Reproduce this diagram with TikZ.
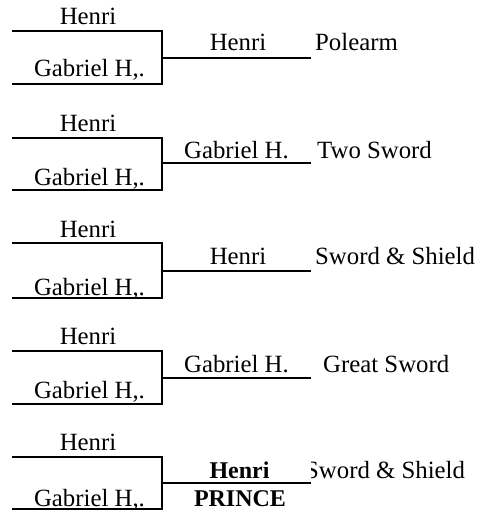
\documentclass[tikz,border=0pt]{standalone}
\usepackage{fontspec}
\setmainfont{Liberation Serif}
\begin{document}
\begin{tikzpicture}[x=1pt,y=-1pt,
  lbl/.style={inner sep=0pt, anchor=base, font=\fontsize{24.8}{29}\selectfont},
  lblw/.style={lbl, anchor=base west},
  lblb/.style={lbl, font=\fontsize{24}{29}\selectfont\bfseries},
  wire/.style={line width=2.5pt, line join=miter}]
\useasboundingbox (0,0) rectangle (480,511);

% Bracket 1
\coordinate (tl1) at (12,31);  \coordinate (tr1) at (162,31);
\coordinate (bl1) at (12,84);  \coordinate (br1) at (162,84);
\coordinate (ms1) at (162,58); \coordinate (me1) at (311,58);
\draw[wire] (tl1) -- (tr1) -- (br1) -- (bl1);
\draw[wire] (ms1) -- (me1);
\node[lbl] (a1) at (88,25) {Henri};
\node[lbl] (b1) at (89.5,77) {Gabriel H,.};
\node[lbl] (w1) at (238,51) {Henri};
\node[lblw] (c1) at (315,51) {Polearm};

% Bracket 2
\coordinate (tl2) at (12,138);  \coordinate (tr2) at (162,138);
\coordinate (bl2) at (12,190);  \coordinate (br2) at (162,190);
\coordinate (ms2) at (162,163); \coordinate (me2) at (311,163);
\draw[wire] (tl2) -- (tr2) -- (br2) -- (bl2);
\draw[wire] (ms2) -- (me2);
\node[lbl] (a2) at (88,131) {Henri};
\node[lbl] (b2) at (89.5,185) {Gabriel H,.};
\node[lbl] (w2) at (236.5,158) {Gabriel H.};
\node[lblw] (c2) at (317,158) {Two Sword};

% Bracket 3
\coordinate (tl3) at (12,243);  \coordinate (tr3) at (162,243);
\coordinate (bl3) at (12,298);  \coordinate (br3) at (162,298);
\coordinate (ms3) at (162,271); \coordinate (me3) at (311,271);
\draw[wire] (tl3) -- (tr3) -- (br3) -- (bl3);
\draw[wire] (ms3) -- (me3);
\node[lbl] (a3) at (88,237) {Henri};
\node[lbl] (b3) at (89.5,295) {Gabriel H,.};
\node[lbl] (w3) at (238,264) {Henri};
\node[lblw] (c3) at (315,264) {Sword \& Shield};

% Bracket 4
\coordinate (tl4) at (12,351);  \coordinate (tr4) at (162,351);
\coordinate (bl4) at (12,404);  \coordinate (br4) at (162,404);
\coordinate (ms4) at (162,378); \coordinate (me4) at (311,378);
\draw[wire] (tl4) -- (tr4) -- (br4) -- (bl4);
\draw[wire] (ms4) -- (me4);
\node[lbl] (a4) at (88,344) {Henri};
\node[lbl] (b4) at (89.5,398) {Gabriel H,.};
\node[lbl] (w4) at (236.5,372) {Gabriel H.};
\node[lblw] (c4) at (323,372) {Great Sword};

% Bracket 5
\coordinate (tl5) at (12,457);  \coordinate (tr5) at (162,457);
\coordinate (bl5) at (12,509);  \coordinate (br5) at (162,509);
\coordinate (ms5) at (162,483); \coordinate (me5) at (311,483);
\draw[wire] (tl5) -- (tr5) -- (br5) -- (bl5);
\draw[wire] (ms5) -- (me5);
\node[lbl] (a5) at (88,450) {Henri};
\node[lbl] (b5) at (89.5,506) {Gabriel H,.};
\node[lblb] (w5) at (239.5,478) {Henri};
\node[lblb] (p5) at (240,506) {PRINCE};
\begin{scope}
  \clip (311,440) rectangle (480,511);
  \node[lblw] (c5) at (305,478) {Sword \& Shield};
\end{scope}
\end{tikzpicture}
\end{document}
